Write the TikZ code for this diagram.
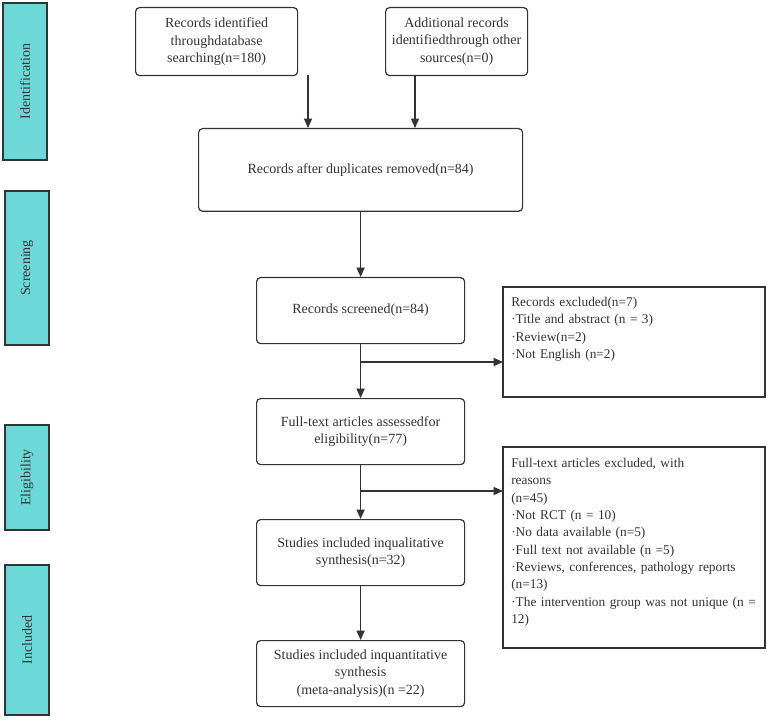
\documentclass[tikz,border=0pt]{standalone}
\usepackage{fontspec}
\setmainfont{Liberation Serif}
\usetikzlibrary{arrows.meta}
\definecolor{bar}{HTML}{6DD8D8}
\definecolor{ink}{HTML}{333333}
\begin{document}
\begin{tikzpicture}[x=0.75pt,y=-0.75pt,
  font=\fontsize{10.5}{13}\selectfont, text=ink,
  side/.style={draw=ink,line width=1pt,fill=bar},
  box/.style={draw=ink,line width=0.9pt,rounded corners=3pt,align=center,anchor=north west},
  exr/.style={draw=ink,line width=0.9pt},
  ex/.style={align=left,anchor=north west,inner sep=0pt,text width=195pt,font=\fontsize{10}{13}\selectfont},
  arr/.style={draw=ink,line width=1pt,-{Triangle[length=7pt,width=6pt]}}]
\useasboundingbox (0,0) rectangle (767,720);
% side bars
\draw[side] (3,3) rectangle (47,160) node[pos=0.5,rotate=90] (s1) {Identification};
\draw[side] (5,191) rectangle (49,345) node[pos=0.5,rotate=90] (s2) {Screening};
\draw[side] (5,425) rectangle (49,530) node[pos=0.5,rotate=90] (s3) {Eligibility};
\draw[side] (5,565) rectangle (49,715) node[pos=0.5,rotate=90] (s4) {Included};
% boxes
\node[box,minimum width=121.5pt,minimum height=51pt] (a) at (135,7) {Records identified\\ throughdatabase\\ searching(n=180)};
\node[box,minimum width=106.5pt,minimum height=51pt] (b) at (385,7) {Additional records\\ identifiedthrough other\\ sources(n=0)};
\node[box,minimum width=243pt,minimum height=62pt] (c) at (198,128) {Records after duplicates removed(n=84)};
\node[box,minimum width=156pt,minimum height=49.5pt] (d) at (256,277) {Records screened(n=84)};
\node[box,minimum width=156pt,minimum height=49.5pt] (e) at (256,398) {Full-text articles assessedfor\\ eligibility(n=77)};
\node[box,minimum width=156pt,minimum height=49.5pt] (f) at (256,519) {Studies included inqualitative\\ synthesis(n=32)};
\node[box,minimum width=156pt,minimum height=49.5pt] (g) at (256,640) {Studies included inquantitative\\ synthesis\\ (meta-analysis)(n =22)};
\draw[exr] (503,287) rectangle (765,397);
\node[ex] (x1) at (511,297) {Records excluded(n=7)\\ ·Title and abstract (n = 3)\\ ·Review(n=2)\\ ·Not English (n=2)};
\draw[exr] (503,447) rectangle (765,648);
\node[ex] (x2) at (511,458) {Full-text articles excluded, with\\ reasons\\ (n=45)\\ ·Not RCT (n = 10)\\ ·No data available (n=5)\\ ·Full text not available (n =5)\\ ·Reviews, conferences, pathology reports\\ (n=13)\\ ·The intervention group was not unique (n =\\ 12)};
% arrows
\coordinate (a1) at (308,75); \coordinate (c1) at (308,128);
\coordinate (b1) at (415,75); \coordinate (c2) at (415,128);
\draw[arr] (a1) -- (c1);
\draw[arr] (b1) -- (c2);
\draw[arr] (c.south) -- (d.north);
\draw[arr] (d.south) -- (e.north);
\draw[arr] (e.south) -- (f.north);
\draw[arr] (f.south) -- (g.north);
\coordinate (j1) at (360,362); \coordinate (k1) at (503,362);
\coordinate (j2) at (360,491); \coordinate (k2) at (503,491);
\draw[arr] (j1) -- (k1);
\draw[arr] (j2) -- (k2);
\end{tikzpicture}
\end{document}
